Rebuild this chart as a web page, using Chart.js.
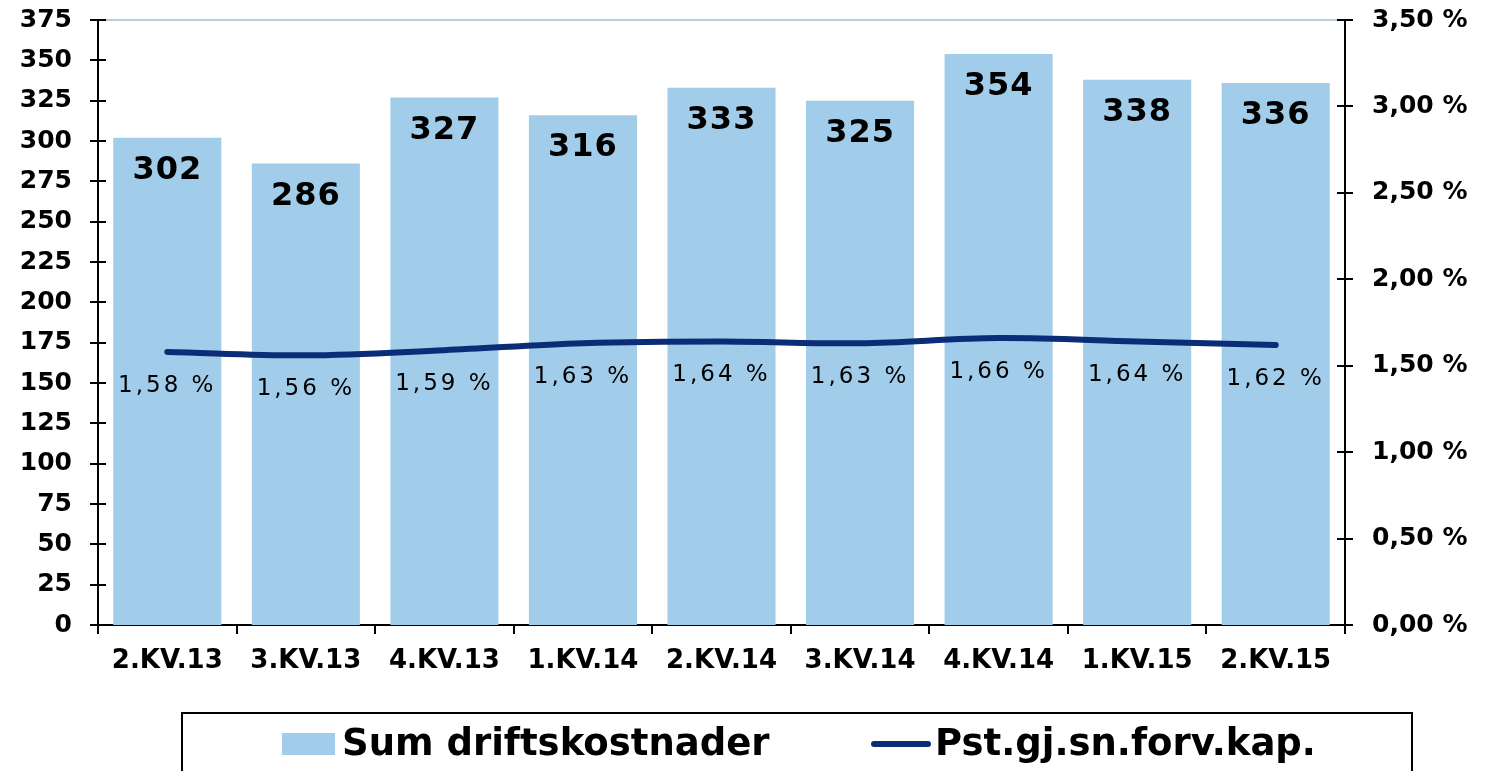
<!DOCTYPE html>
<html>
<head>
<meta charset="utf-8">
<script src="https://cdn.jsdelivr.net/npm/chart.js@4.4.1/dist/chart.umd.min.js"></script>
<style>
  html, body { margin: 0; padding: 0; background: #fff; }
  #wrap { width: 1488px; height: 771px; }
</style>
</head>
<body>
<div id="wrap"><canvas id="chart" width="1488" height="771"></canvas></div>
<script>
const quarters = ['2.KV.13', '3.KV.13', '4.KV.13', '1.KV.14', '2.KV.14', '3.KV.14', '4.KV.14', '1.KV.15', '2.KV.15'];
const driftskostnader = [302, 286, 327, 316, 333, 325, 354, 338, 336];
const pstKapital = [1.58, 1.56, 1.59, 1.63, 1.64, 1.63, 1.66, 1.64, 1.62];
const leftTicks = [0, 25, 50, 75, 100, 125, 150, 175, 200, 225, 250, 275, 300, 325, 350, 375];
const rightTicks = [0, 0.5, 1, 1.5, 2, 2.5, 3, 3.5];

const barColor = '#a1cdeb';
const lineColor = '#0b2c77';
const fontFamily = '"DejaVu Sans", Verdana, sans-serif';

function pct(v) {
    return v.toFixed(2).replace('.', ',') + ' %';
}

// kryssende tick-merker, toppkant og verdietiketter
const decorations = {
    id: 'decorations',
    afterDatasetsDraw(chart) {
        const ctx = chart.ctx;
        const area = chart.chartArea;
        const yL = chart.scales.y;
        const yR = chart.scales.y2;

        ctx.save();
        // toppkant
        ctx.strokeStyle = '#b9cde0';
        ctx.lineWidth = 2;
        ctx.beginPath();
        ctx.moveTo(area.left, area.top);
        ctx.lineTo(area.right, area.top);
        ctx.stroke();

        ctx.strokeStyle = '#000';
        ctx.lineWidth = 2;
        yL.ticks.forEach((t, i) => {
            const py = Math.round(yL.getPixelForTick(i));
            ctx.beginPath();
            ctx.moveTo(area.left - 8, py);
            ctx.lineTo(area.left + 8, py);
            ctx.stroke();
        });
        yR.ticks.forEach((t, i) => {
            const py = Math.round(yR.getPixelForTick(i));
            ctx.beginPath();
            ctx.moveTo(area.right - 8, py);
            ctx.lineTo(area.right + 8, py);
            ctx.stroke();
        });

        // stolpeetiketter
        const barMeta = chart.getDatasetMeta(0);
        ctx.fillStyle = '#000';
        ctx.textAlign = 'center';
        ctx.textBaseline = 'middle';
        ctx.font = 'bold 32px ' + fontFamily;
        ctx.letterSpacing = '1px';
        barMeta.data.forEach((el, i) => {
            ctx.fillText(String(driftskostnader[i]), el.x, el.y + 33);
        });

        // linjeetiketter
        const lineMeta = chart.getDatasetMeta(1);
        ctx.font = '23px ' + fontFamily;
        ctx.letterSpacing = '3px';
        lineMeta.data.forEach((el, i) => {
            ctx.fillText(pct(pstKapital[i]), el.x, el.y + 34);
        });
        ctx.restore();
    }
};

// forklaring i ramme
const boxedLegend = {
    id: 'boxedLegend',
    afterDraw(chart) {
        const ctx = chart.ctx;
        const ds = chart.data.datasets;
        const top = 713;
        const cy = 744;
        ctx.save();
        ctx.strokeStyle = '#000';
        ctx.lineWidth = 2;
        ctx.strokeRect(182, top, 1230, 100);

        ctx.font = 'bold 37px ' + fontFamily;
        ctx.textAlign = 'left';
        ctx.textBaseline = 'middle';

        ctx.fillStyle = ds[0].backgroundColor;
        ctx.fillRect(282, cy - 11, 53, 22);
        ctx.fillStyle = '#000';
        ctx.fillText(ds[0].label, 342, cy + 1);

        ctx.strokeStyle = ds[1].borderColor;
        ctx.lineWidth = 6;
        ctx.lineCap = 'round';
        ctx.beginPath();
        ctx.moveTo(874, cy);
        ctx.lineTo(928, cy);
        ctx.stroke();
        ctx.fillStyle = '#000';
        ctx.fillText(ds[1].label, 935, cy + 1);
        ctx.restore();
    }
};

function fixVertical(width) {
    return function (scale) {
        scale.width = width;
        scale.paddingTop = 0;
        scale.paddingBottom = 0;
    };
}

new Chart(document.getElementById('chart'), {
    type: 'bar',
    data: {
        labels: quarters,
        datasets: [{
            type: 'bar',
            label: 'Sum driftskostnader',
            data: driftskostnader,
            backgroundColor: barColor,
            yAxisID: 'y',
            categoryPercentage: 1,
            barPercentage: 0.78,
            order: 2
        }, {
            type: 'line',
            label: 'Pst.gj.sn.forv.kap.',
            data: pstKapital,
            borderColor: lineColor,
            borderWidth: 6,
            borderCapStyle: 'round',
            tension: 0.35,
            pointRadius: 0,
            fill: false,
            yAxisID: 'y2',
            order: 1
        }]
    },
    options: {
        responsive: false,
        animation: false,
        layout: { padding: { top: 20, left: 0, right: 0, bottom: 0 } },
        plugins: {
            legend: { display: false },
            tooltip: { enabled: false }
        },
        scales: {
            x: {
                offset: true,
                grid: {
                    display: true,
                    drawOnChartArea: false,
                    drawTicks: true,
                    tickLength: 9,
                    color: '#000',
                    lineWidth: 2
                },
                border: { display: true, color: '#000', width: 2 },
                ticks: {
                    color: '#000',
                    font: { family: fontFamily, size: 26, weight: 'bold' },
                    padding: 12,
                    maxRotation: 0
                },
                afterFit(scale) {
                    scale.height = 146;
                    scale.paddingLeft = 0;
                    scale.paddingRight = 0;
                }
            },
            y: {
                position: 'left',
                min: 0,
                max: 375,
                afterBuildTicks(scale) { scale.ticks = leftTicks.map(v => ({ value: v })); },
                grid: { display: false, drawTicks: false },
                border: { display: true, color: '#000', width: 2 },
                ticks: {
                    color: '#000',
                    font: { family: fontFamily, size: 25, weight: 'bold' },
                    padding: 26
                },
                afterFit: fixVertical(98)
            },
            y2: {
                position: 'right',
                min: 0,
                max: 3.5,
                afterBuildTicks(scale) { scale.ticks = rightTicks.map(v => ({ value: v })); },
                grid: { display: false, drawTicks: false },
                border: { display: true, color: '#000', width: 2 },
                ticks: {
                    color: '#000',
                    font: { family: fontFamily, size: 25, weight: 'bold' },
                    padding: 27,
                    callback: v => pct(v)
                },
                afterFit: fixVertical(143)
            }
        }
    },
    plugins: [decorations, boxedLegend]
});
</script>
</body>
</html>
